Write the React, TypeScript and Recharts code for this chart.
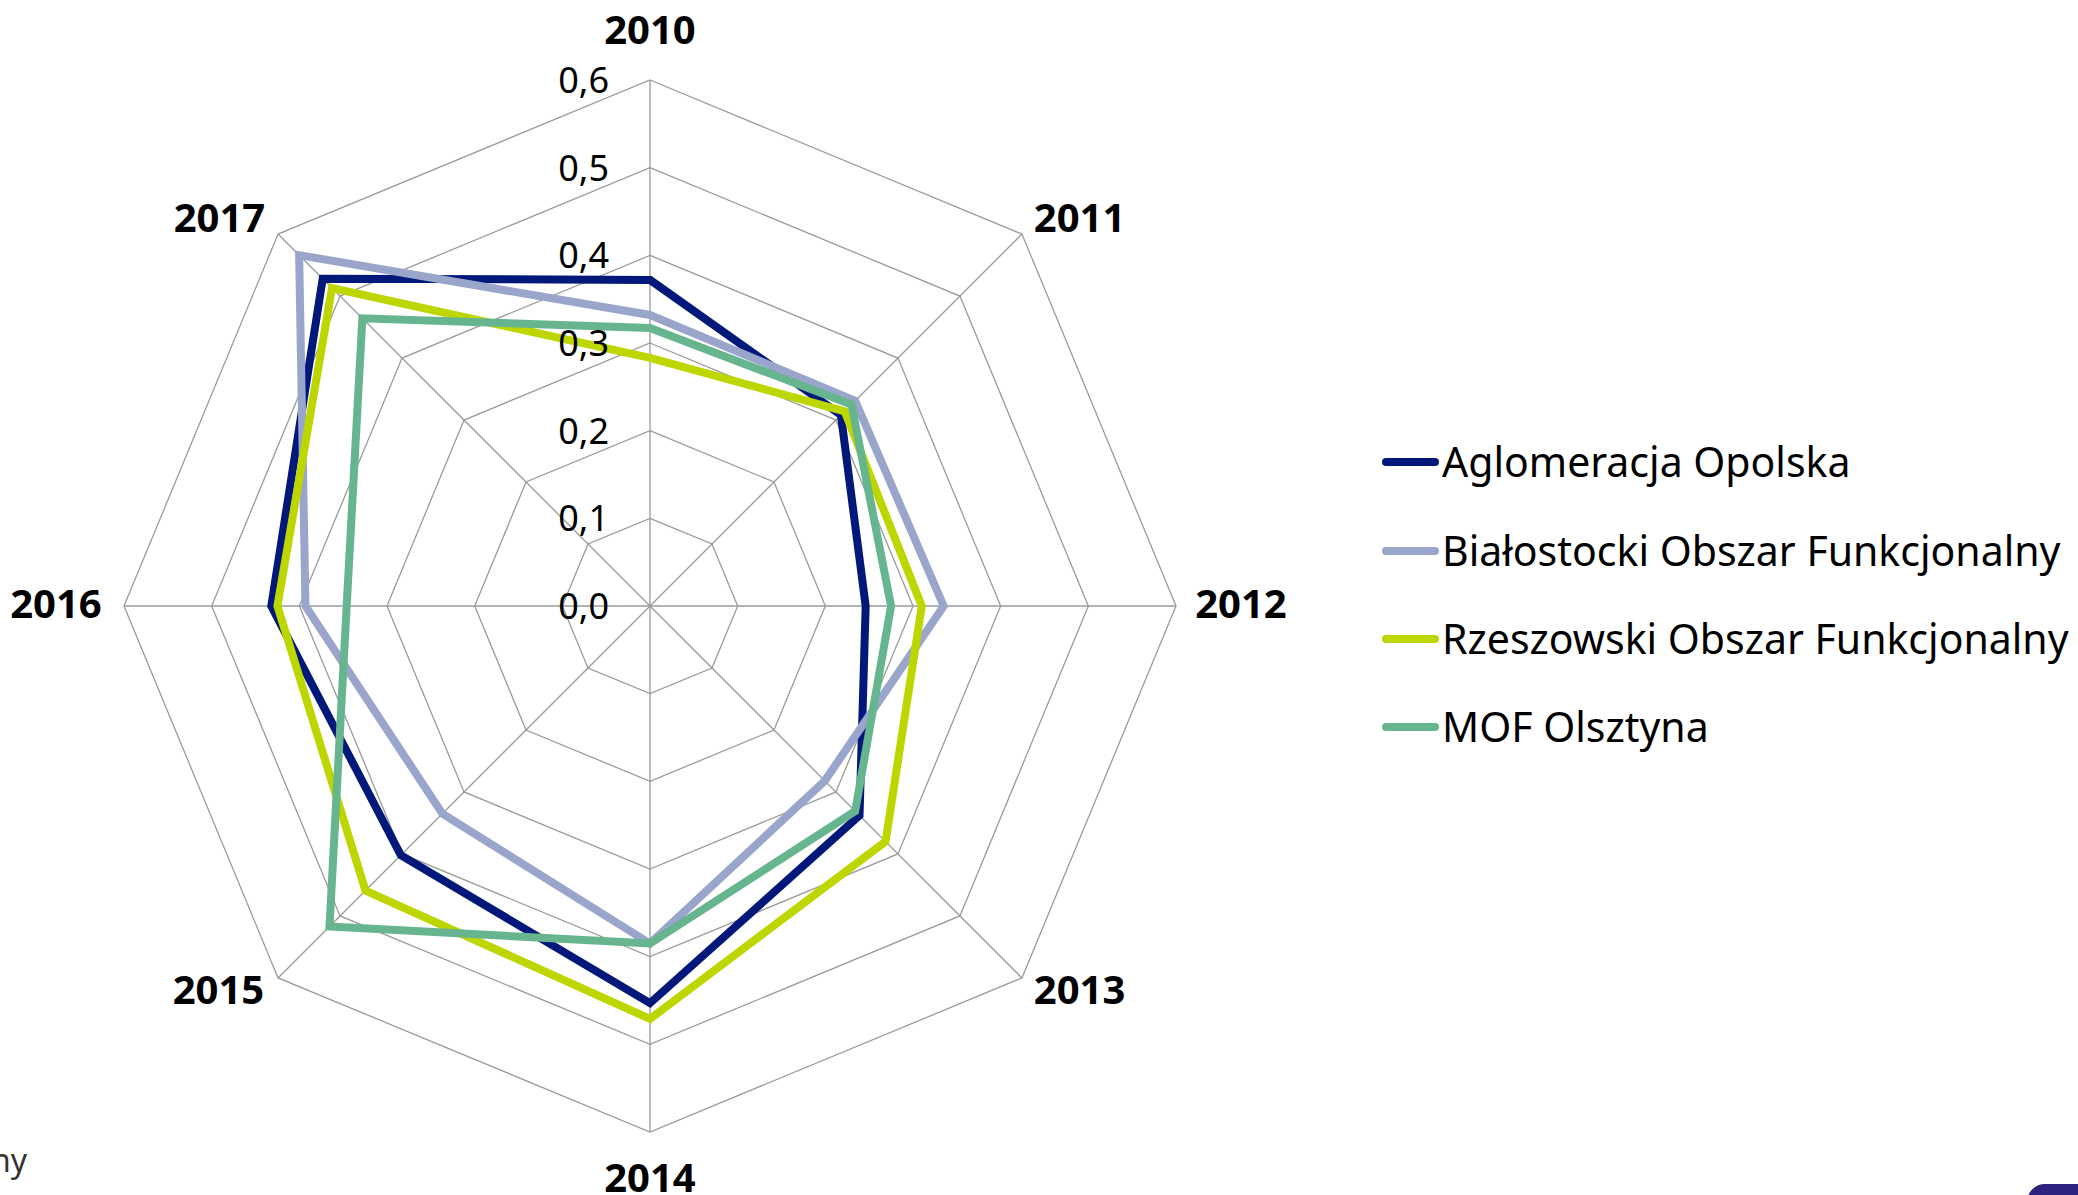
import React from 'react'
import { RadarChart, Radar, PolarGrid, PolarAngleAxis, PolarRadiusAxis, Legend } from 'recharts'

const years = ['2010', '2011', '2012', '2013', '2014', '2015', '2016', '2017']
const radiusTicks = [0, 0.1, 0.2, 0.3, 0.4, 0.5, 0.6]

const opolska = [0.372, 0.308, 0.246, 0.338, 0.453, 0.402, 0.432, 0.528]
const bialostocki = [0.332, 0.331, 0.335, 0.282, 0.385, 0.335, 0.393, 0.566]
const rzeszowski = [0.283, 0.314, 0.31, 0.38, 0.471, 0.459, 0.425, 0.513]
const olsztyn = [0.317, 0.325, 0.275, 0.331, 0.385, 0.517, 0.346, 0.464]

const data = years.map((year, i) => ({
  year,
  opolska: opolska[i],
  bialostocki: bialostocki[i],
  rzeszowski: rzeszowski[i],
  olsztyn: olsztyn[i],
}))

const font = '"Noto Sans", sans-serif'

// label offset from the axis end, per year
const labelOffsets: Record<string, [number, number]> = {
  '2010': [0, -41],
  '2011': [52, -9],
  '2012': [57, -1],
  '2013': [52, 7],
  '2014': [0, 39],
  '2015': [-54, 7],
  '2016': [-60, -1],
  '2017': [-53, -9],
}

const YearTick = (props: any) => {
  const { x, y, payload } = props
  const [dx, dy] = labelOffsets[payload.value] || [0, 0]
  return (
    <text x={x + dx} y={y + dy + 13} textAnchor="middle" fontFamily={font} fontWeight={700} fontSize={40} fill="#000">
      {payload.value}
    </text>
  )
}

const ValueTick = (props: any) => {
  const { x, y, payload } = props
  return (
    <text x={x - 41} y={y + 13} textAnchor="end" fontFamily={font} fontSize={36} fill="#000">
      {Number(payload.value).toFixed(1).replace('.', ',')}
    </text>
  )
}

const LegendList = ({ payload }: any) => (
  <div style={{ fontFamily: font, fontSize: 41, color: '#000' }}>
    {(payload || []).map((entry: any) => (
      <div key={entry.value} style={{ display: 'flex', alignItems: 'center', height: 88.4, whiteSpace: 'nowrap' }}>
        <div style={{ width: 57, height: 8, borderRadius: 4, background: entry.color, marginRight: 3 }} />
        <span style={{ position: 'relative', top: -1 }}>{entry.value}</span>
      </div>
    ))}
  </div>
)

export default function App() {
  return (
    <div style={{ position: 'absolute', left: 0, top: 0, width: 2078, height: 1195, overflow: 'hidden', background: '#fff' }}>
      <RadarChart
        width={2078}
        height={1195}
        data={data}
        cx={650}
        cy={606}
        outerRadius={526}
        startAngle={90}
        endAngle={-270}
      >
        <PolarGrid gridType="polygon" stroke="#9a9a9a" strokeWidth={1.3} />
        <PolarAngleAxis dataKey="year" tick={<YearTick />} tickLine={false} axisLine={false} />
        <PolarRadiusAxis
          angle={90}
          domain={[0, 0.6]}
          allowDecimals
          ticks={radiusTicks as any}
          tickCount={7}
          tick={<ValueTick />}
          axisLine={false}
          tickLine={false}
        />
        <Radar name="Aglomeracja Opolska" dataKey="opolska" stroke="#00187a" strokeWidth={8} fill="none" fillOpacity={0} isAnimationActive={false} />
        <Radar name="Białostocki Obszar Funkcjonalny" dataKey="bialostocki" stroke="#9aa5cc" strokeWidth={8} fill="none" fillOpacity={0} isAnimationActive={false} />
        <Radar name="Rzeszowski Obszar Funkcjonalny" dataKey="rzeszowski" stroke="#bdd600" strokeWidth={8} fill="none" fillOpacity={0} isAnimationActive={false} />
        <Radar name="MOF Olsztyna" dataKey="olsztyn" stroke="#66b58f" strokeWidth={8} fill="none" fillOpacity={0} isAnimationActive={false} />
        <Legend
          layout="vertical"
          align="left"
          verticalAlign="top"
          itemSorter={null}
          content={<LegendList />}
          wrapperStyle={{ left: 1382, top: 418, width: 696 }}
        />
      </RadarChart>
      <div style={{ position: 'absolute', left: -9, top: 1140, fontFamily: font, fontSize: 32, color: '#333', lineHeight: '40px' }}>ny</div>
      <div style={{ position: 'absolute', left: 2027, top: 1184, width: 80, height: 40, borderRadius: 18, background: '#2e2280' }} />
    </div>
  )
}
